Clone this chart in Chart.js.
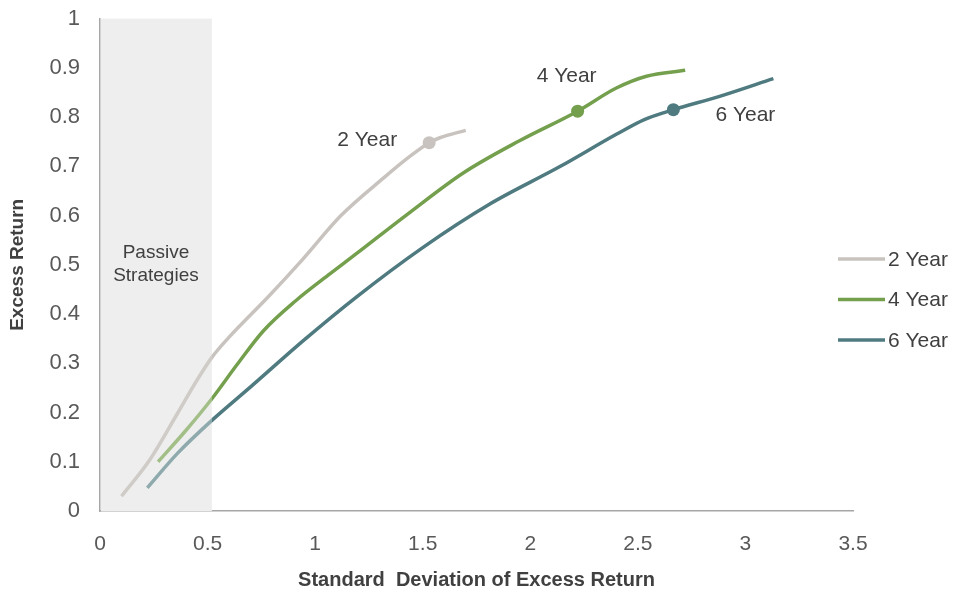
<!DOCTYPE html>
<html>
<head>
<meta charset="utf-8">
<script src="https://cdn.jsdelivr.net/npm/chart.js@4.4.1/dist/chart.umd.min.js"></script>
<style>
  html, body { margin: 0; padding: 0; background: #fff; }
  #wrap { width: 955px; height: 595px; }
</style>
</head>
<body>
<div id="wrap"><canvas id="chart"></canvas></div>
<script>
// values
const seriesNames = ['2 Year', '4 Year', '6 Year'];

const twoYearX = [0.10, 0.23, 0.36, 0.45, 0.52, 0.60, 0.78, 0.94, 1.12, 1.32, 1.44, 1.53, 1.58, 1.70];
const twoYearY = [0.03, 0.103, 0.198, 0.265, 0.312, 0.353, 0.434, 0.51, 0.60, 0.677, 0.72, 0.748, 0.758, 0.773];

const fourYearX = [0.27, 0.40, 0.52, 0.64, 0.76, 0.91, 1.07, 1.19, 1.43, 1.69, 1.95, 2.22, 2.40, 2.54, 2.72];
const fourYearY = [0.10, 0.164, 0.228, 0.299, 0.366, 0.427, 0.482, 0.522, 0.603, 0.687, 0.752, 0.812, 0.859, 0.883, 0.895];

const sixYearX = [0.22, 0.36, 0.52, 0.70, 0.945, 1.19, 1.50, 1.81, 2.14, 2.40, 2.53, 2.665, 2.88, 3.13];
const sixYearY = [0.047, 0.117, 0.184, 0.252, 0.346, 0.434, 0.535, 0.623, 0.70, 0.765, 0.795, 0.815, 0.842, 0.878];

// which point of each series carries the dot + label
const markerIndex = [11, 11, 11];

const xTicks = [0, 0.5, 1, 1.5, 2, 2.5, 3, 3.5];
const yTicks = [0, 0.1, 0.2, 0.3, 0.4, 0.5, 0.6, 0.7, 0.8, 0.9, 1];

// shaded "Passive Strategies" band (x range)
const passiveBand = [0, 0.52];

const colors = ['#c8c3be', '#74a04e', '#4f7b80'];
const fadedColors = ['#cfcbc7', '#a3bf88', '#8eaaad'];

const font = '"Liberation Sans", Arial, sans-serif';

function toPoints(xs, ys) {
    return xs.map((x, i) => ({ x: x, y: ys[i] }));
}

// line colour: lighter where it runs through the passive band
function lineColor(i) {
    return function (ctx) {
        const chart = ctx.chart;
        const area = chart.chartArea;
        if (!area) return colors[i];
        const edge = chart.scales.x.getPixelForValue(passiveBand[1]);
        const g = chart.ctx.createLinearGradient(area.left, 0, area.right, 0);
        const f = Math.min(1, Math.max(0, (edge - area.left) / (area.right - area.left)));
        g.addColorStop(0, fadedColors[i]);
        g.addColorStop(f, fadedColors[i]);
        g.addColorStop(Math.min(1, f + 0.0001), colors[i]);
        g.addColorStop(1, colors[i]);
        return g;
    };
}

function makeDataset(i, xs, ys) {
    return {
        label: seriesNames[i],
        data: toPoints(xs, ys),
        borderColor: lineColor(i),
        backgroundColor: colors[i],
        borderWidth: 3.5,
        cubicInterpolationMode: 'monotone',
        pointRadius: ctx => ctx.dataIndex === markerIndex[i] ? 6.5 : 0,
        pointHoverRadius: 0,
        pointBorderWidth: 0,
        pointBackgroundColor: colors[i],
        fill: false
    };
}

const bandPlugin = {
    id: 'band',
    beforeDatasetsDraw(chart) {
        const { ctx, scales } = chart;
        const x0 = scales.x.getPixelForValue(passiveBand[0]);
        const x1 = scales.x.getPixelForValue(passiveBand[1]);
        const y0 = scales.y.getPixelForValue(1);
        const y1 = scales.y.getPixelForValue(0);
        ctx.save();
        ctx.fillStyle = '#eeeeee';
        ctx.fillRect(x0 + 1, y0, x1 - x0 - 1, y1 - y0);
        ctx.fillStyle = '#404040';
        ctx.font = '19px ' + font;
        ctx.textAlign = 'center';
        ctx.textBaseline = 'middle';
        const cx = (x0 + x1) / 2;
        ctx.fillText('Passive', cx, 253);
        ctx.fillText('Strategies', cx, 276);
        ctx.restore();
    }
};

const labelPlugin = {
    id: 'seriesLabels',
    afterDatasetsDraw(chart) {
        const { ctx, scales } = chart;
        const offsets = [[-62, -2], [-11, -35], [72, 6]];
        ctx.save();
        ctx.fillStyle = '#404040';
        ctx.font = '21px ' + font;
        ctx.textAlign = 'center';
        ctx.textBaseline = 'middle';
        chart.data.datasets.forEach((ds, i) => {
            const p = ds.data[markerIndex[i]];
            const px = scales.x.getPixelForValue(p.x);
            const py = scales.y.getPixelForValue(p.y);
            ctx.fillText(seriesNames[i], px + offsets[i][0], py + offsets[i][1]);
        });
        ctx.restore();
    }
};

const legendPlugin = {
    id: 'sideLegend',
    afterDraw(chart) {
        const { ctx } = chart;
        const left = 838, lineLen = 47, top = 259, gap = 40.5;
        ctx.save();
        ctx.font = '21px ' + font;
        ctx.textBaseline = 'middle';
        ctx.textAlign = 'left';
        chart.data.datasets.forEach((ds, i) => {
            const y = top + i * gap;
            ctx.strokeStyle = colors[i];
            ctx.lineWidth = 3.5;
            ctx.beginPath();
            ctx.moveTo(left, y);
            ctx.lineTo(left + lineLen, y);
            ctx.stroke();
            ctx.fillStyle = '#404040';
            ctx.fillText(ds.label, left + lineLen + 3, y + 1);
        });
        ctx.restore();
    }
};

const chart = new Chart(document.getElementById('chart').getContext('2d'), {
    type: 'line',
    data: {
        datasets: [
            makeDataset(0, twoYearX, twoYearY),
            makeDataset(1, fourYearX, fourYearY),
            makeDataset(2, sixYearX, sixYearY)
        ]
    },
    options: {
        responsive: true,
        maintainAspectRatio: false,
        animation: false,
        layout: { padding: { left: 6, right: 102, top: 17, bottom: 0 } },
        plugins: {
            legend: { display: false },
            tooltip: { enabled: false }
        },
        scales: {
            x: {
                type: 'linear',
                min: 0,
                max: 3.5,
                afterBuildTicks: axis => { axis.ticks = xTicks.map(v => ({ value: v })); },
                afterFit: axis => { axis.height = 84; },
                ticks: {
                    color: '#595959',
                    font: { family: font, size: 21 },
                    padding: 13,
                    maxRotation: 0,
                    callback: v => String(v)
                },
                grid: { display: false },
                border: { display: true, color: '#a6a6a6', width: 1.5 },
                title: {
                    display: true,
                    text: 'Standard  Deviation of Excess Return',
                    color: '#404040',
                    font: { family: font, size: 20, weight: 'bold' },
                    padding: { top: 0, bottom: 3 }
                }
            },
            y: {
                type: 'linear',
                min: 0,
                max: 1,
                afterBuildTicks: axis => { axis.ticks = yTicks.map(v => ({ value: v })); },
                afterFit: axis => { axis.width = 94; },
                ticks: {
                    color: '#595959',
                    font: { family: font, size: 22, lineHeight: 0.6 },
                    padding: 12,
                    callback: v => String(+v.toFixed(1))
                },
                grid: { display: false },
                border: { display: true, color: '#a6a6a6', width: 1.5 },
                title: {
                    display: true,
                    text: 'Excess Return',
                    color: '#404040',
                    font: { family: font, size: 19, weight: 'bold' },
                    padding: { top: 0, bottom: 0 }
                }
            }
        }
    },
    plugins: [bandPlugin, labelPlugin, legendPlugin]
});
</script>
</body>
</html>
